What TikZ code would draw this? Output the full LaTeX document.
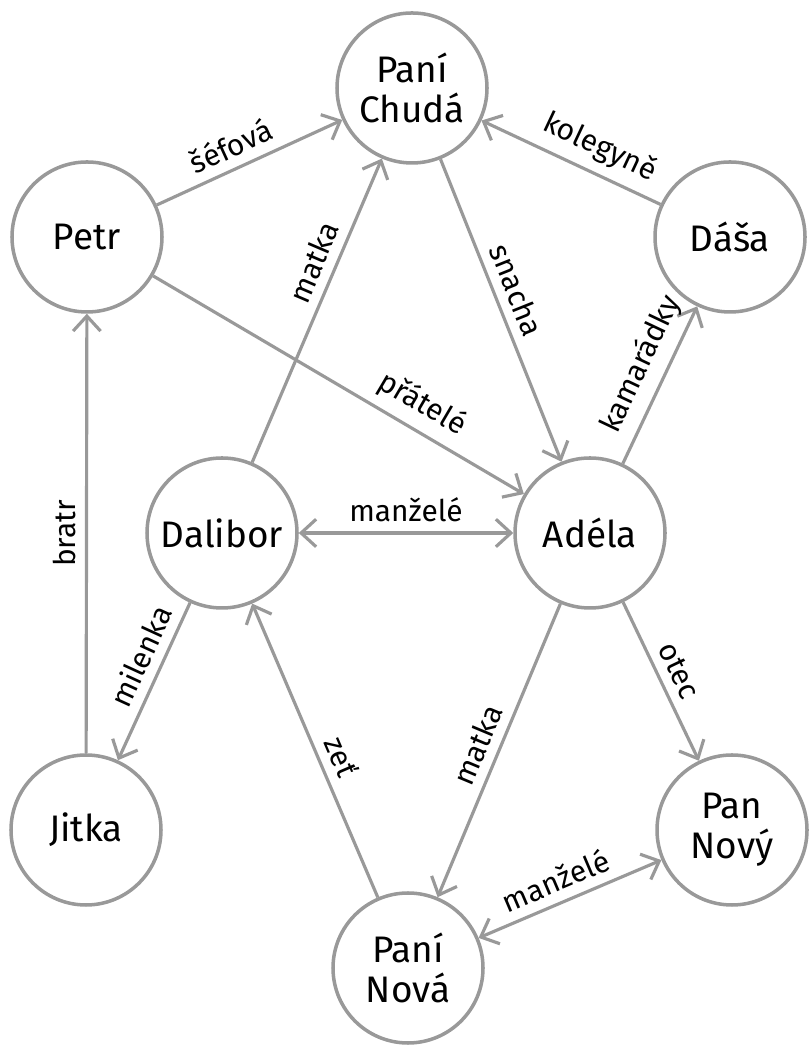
\documentclass[tikz,border=0pt]{standalone}
\usepackage{fontspec}
\setmainfont{Fira Sans}
\usetikzlibrary{arrows.meta}

\begin{document}
\begin{tikzpicture}[
    person/.style={draw=black!40, line width=2pt, circle, minimum size=3cm, align=center, font=\fontsize{21}{23}\selectfont},
    rel/.style={draw=black!40, line width=1.8pt, -{Straight Barb[length=3mm,width=5.5mm]}},
    both/.style={rel, {Straight Barb[length=3mm,width=5.5mm]}-{Straight Barb[length=3mm,width=5.5mm]}},
    lbl/.style={sloped, above=2pt, font=\fontsize{17}{19}\selectfont}
]
    \useasboundingbox (0,0) rectangle (16.18,21.2);
    \node [person] (chuda) at (8.24,19.44) {Paní\\Chudá};
    \node [person] (petr) at (1.74,16.46) {Petr};
    \node [person] (dasa) at (14.6,16.46) {Dáša};
    \node [person] (dalibor) at (4.44,10.54) {Dalibor};
    \node [person] (adela) at (11.8,10.54) {Adéla};
    \node [person] (jitka) at (1.72,4.6) {Jitka};
    \node [person] (novy) at (14.64,4.6) {Pan\\Nový};
    \node [person] (nova) at (8.16,1.84) {Paní\\Nová};

    \draw [rel] (petr) -- node [lbl, pos=0.45] {šéfová} (chuda);
    \draw [rel] (dasa) -- node [lbl, pos=0.4] {kolegyně} (chuda);
    \draw [rel] (dalibor) -- node [lbl, pos=0.63] {matka} (chuda);
    \draw [rel] (chuda) -- node [lbl, pos=0.46] {snacha} (adela);
    \draw [rel] (petr) -- node [lbl, pos=0.69] {přátelé} (adela);
    \draw [rel] (adela) -- node [lbl, pos=0.56] {kamarádky} (dasa);
    \draw [both] (dalibor) -- node [lbl] {manželé} (adela);
    \draw [rel] (jitka) -- node [lbl] {bratr} (petr);
    \draw [rel] (dalibor) -- node [lbl, pos=0.4] {milenka} (jitka);
    \draw [rel] (nova) -- node [lbl, pos=0.45] {zeť} (dalibor);
    \draw [rel] (adela) -- node [lbl, pos=0.51] {matka} (nova);
    \draw [rel] (adela) -- node [lbl, pos=0.49] {otec} (novy);
    \draw [both] (nova) -- node [lbl, pos=0.47] {manželé} (novy);
\end{tikzpicture}
\end{document}
